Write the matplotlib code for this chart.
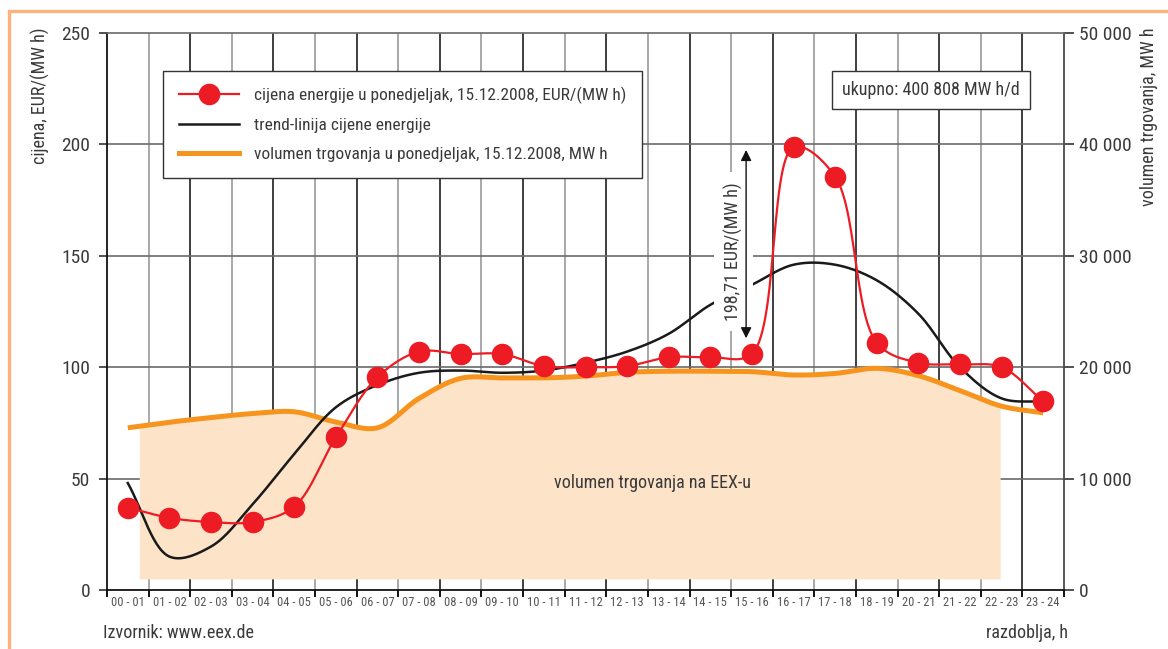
import numpy as np
import matplotlib
matplotlib.use("Agg")
import matplotlib.pyplot as plt
from matplotlib import font_manager
from matplotlib.patches import Rectangle
from matplotlib.lines import Line2D
from matplotlib.ticker import FuncFormatter

# hourly periods as printed in the source (19 - 20 is missing there)
periods = ["00 - 01", "01 - 02", "02 - 03", "03 - 04", "04 - 05", "05 - 06",
           "06 - 07", "07 - 08", "08 - 09", "09 - 10", "10 - 11", "11 - 12",
           "12 - 13", "13 - 14", "14 - 15", "15 - 16", "16 - 17", "17 - 18",
           "18 - 19", "20 - 21", "21 - 22", "22 - 23", "23 - 24"]

# price, EUR/(MW h)
price = [37, 32.4, 30.5, 30.5, 37.4, 68.5, 95.5, 107, 105.9, 105.9, 100.5, 100,
         100.5, 104.5, 104.5, 106, 198.71, 185.5, 111, 102, 101.3, 100, 84.7]

# trend line of price
trend = [48, 15, 19.5, 38.5, 61, 82, 92, 97.5, 98.5, 97.5, 98.5, 102,
         107, 115, 128, 137, 146, 146, 139, 124, 100, 86, 84.5]

# traded volume, MW h
volume = [14560, 15060, 15480, 15840, 16000, 15080, 14560, 17200, 19000, 19040,
          19040, 19200, 19540, 19640, 19640, 19600, 19300, 19440, 19900, 19240,
          17900, 16500, 15900]

# EEX volume band (period index span, floor in MW h)
eex_span = (0.27, 21.0)
eex_floor = 1000

peak_label = "198,71 EUR/(MW h)"
total_label = "ukupno: 400 808 MW h/d"

RED = "#ED1C24"
ORANGE = "#F7941D"
PEACH = "#FDE4C9"
TXT = "#3a3a3a"

# narrow font if there is one
names = {f.name for f in font_manager.fontManager.ttflist}
family = "Liberation Sans"
for cand in ["Liberation Sans Narrow", "Arial Narrow", "Roboto Condensed",
             "Open Sans Condensed", "Noto Sans Condensed"]:
    if cand in names:
        family = cand
        break
plt.rcParams["font.family"] = [family, "DejaVu Sans"]


def smooth(x, y, sx, sy, n=30, alpha=0.5):
    # centripetal Catmull-Rom through the points, computed in pixel space
    p = np.column_stack([np.asarray(x, float) * sx, np.asarray(y, float) * sy])
    p = np.vstack([2 * p[0] - p[1], p, 2 * p[-1] - p[-2]])
    out = []
    for i in range(1, len(p) - 2):
        p0, p1, p2, p3 = p[i - 1], p[i], p[i + 1], p[i + 2]
        t0 = 0.0
        t1 = t0 + np.linalg.norm(p1 - p0) ** alpha
        t2 = t1 + np.linalg.norm(p2 - p1) ** alpha
        t3 = t2 + np.linalg.norm(p3 - p2) ** alpha
        t = np.linspace(t1, t2, n)[:, None]
        a1 = (t1 - t) / (t1 - t0) * p0 + (t - t0) / (t1 - t0) * p1
        a2 = (t2 - t) / (t2 - t1) * p1 + (t - t1) / (t2 - t1) * p2
        a3 = (t3 - t) / (t3 - t2) * p2 + (t - t2) / (t3 - t2) * p3
        b1 = (t2 - t) / (t2 - t0) * a1 + (t - t0) / (t2 - t0) * a2
        b2 = (t3 - t) / (t3 - t1) * a2 + (t - t1) / (t3 - t1) * a3
        c = (t2 - t) / (t2 - t1) * b1 + (t - t1) / (t2 - t1) * b2
        out.append(c if i == 1 else c[1:])
    c = np.vstack(out)
    return c[:, 0] / sx, c[:, 1] / sy


W, H = 1168, 649
fig = plt.figure(figsize=(W / 100, H / 100), dpi=100)


def fx(px):
    return px / W


def fy(py):
    return 1 - py / H


ax = fig.add_axes([fx(107), fy(590), fx(1064) - fx(107), fy(33) - fy(590)])
ax2 = ax.twinx()
ax.set_zorder(2)
ax.patch.set_visible(False)
ax2.set_zorder(1)

n = len(periods)
x = np.arange(n)
ax.set_xlim(-0.5, n - 0.5)
ax.set_ylim(0, 250)
ax2.set_ylim(0, 50000)

# pixel scales for smoothing
sx = 956 / n
sy = 557 / 250
sy2 = 557 / 50000

# grid (on the back axes so the band covers it)
for k in range(1, n):
    ax2.axvline(k - 0.5, color="#1e1e1e" if k % 2 == 0 else "#9a9a9a", lw=1.2, zorder=0)
for v in range(10000, 50000, 10000):
    ax2.axhline(v, color="#6a6a6a", lw=1.2, zorder=0)

# volume band and line
xo, yo = smooth(x, volume, sx, sy2)
m = (xo >= eex_span[0]) & (xo <= eex_span[1])
ax2.fill_between(xo[m], eex_floor, yo[m], color=PEACH, lw=0, zorder=1)
ax2.plot(xo, yo, color=ORANGE, lw=3.6, zorder=2, solid_capstyle="butt")

# trend and price
xt, yt = smooth(x, trend, sx, sy)
ax.plot(xt, yt, color="#1a1a1a", lw=1.8, zorder=3)
xp, yp = smooth(x, price, sx, sy)
ax.plot(xp, yp, color=RED, lw=1.6, zorder=8)
ax.plot(x, price, "o", ms=14.5, color=RED, mec=RED, zorder=9)

# peak annotation
ax.text(14.55, 152, peak_label, rotation=90, ha="center", va="center",
        fontsize=13, color=TXT, zorder=6,
        bbox=dict(fc="white", ec="none", boxstyle="square,pad=0.55"))
ax.annotate("", xy=(14.86, 197.5), xytext=(14.86, 113),
            arrowprops=dict(arrowstyle="<|-|>", color="#111111", lw=1.0,
                            mutation_scale=16, shrinkA=0, shrinkB=0),
            zorder=7)

ax.text(12.6, 48, "volumen trgovanja na EEX-u", ha="center", va="center",
        fontsize=13, color=TXT, zorder=4)

# axes styling
ax.spines["right"].set_visible(False)
ax.spines["left"].set_color("#111111")
ax.spines["left"].set_linewidth(1.3)
ax.spines["bottom"].set_color("#111111")
ax.spines["bottom"].set_linewidth(1.3)
ax.spines["top"].set_color("#6a6a6a")
ax.spines["top"].set_linewidth(1.2)
for s in ["left", "top", "bottom"]:
    ax2.spines[s].set_visible(False)
ax2.spines["right"].set_color("#4a4a4a")
ax2.spines["right"].set_linewidth(1.3)

ax.set_yticks(range(0, 251, 50))
ax.tick_params(axis="y", length=6, width=1.2, color="#333333", pad=6,
               labelsize=14, labelcolor=TXT)
ax2.set_yticks(range(0, 50001, 10000))
ax2.yaxis.set_major_formatter(FuncFormatter(lambda v, _: f"{int(v):,}".replace(",", " ")))
ax2.tick_params(axis="y", length=7, width=1.2, color="#333333", pad=4,
                labelsize=14, labelcolor=TXT)

ax.set_xticks(np.arange(n + 1) - 0.5)
ax.set_xticklabels([])
ax.set_xticks(x, minor=True)
ax.set_xticklabels(periods, minor=True, fontsize=9, color="#555555")
ax.tick_params(axis="x", which="minor", length=0, pad=4)
ax.tick_params(axis="x", which="major", length=5, width=1.3, direction="out")
for k, t in enumerate(ax.xaxis.get_major_ticks()):
    t.tick1line.set_color("#1e1e1e" if k % 2 == 0 else "#8a8a8a")

# legend
handles = [
    Line2D([], [], color=RED, lw=1.6, marker="o", ms=14.5, mec=RED),
    Line2D([], [], color="#1a1a1a", lw=1.8),
    Line2D([], [], color=ORANGE, lw=3.6),
]
labels = ["cijena energije u ponedjeljak, 15.12.2008, EUR/(MW h)",
          "trend-linija cijene energije",
          "volumen trgovanja u ponedjeljak, 15.12.2008, MW h"]
leg = ax.legend(handles, labels, loc="upper left",
                bbox_to_anchor=(fx(163), fy(71)), bbox_transform=fig.transFigure,
                fontsize=12.5, frameon=True, fancybox=False, framealpha=1,
                edgecolor="#333333", handlelength=3.5, handletextpad=0.85,
                labelspacing=0.8, borderpad=0.9, borderaxespad=0)
leg.get_frame().set_linewidth(1.0)
leg.set_zorder(20)
for t in leg.get_texts():
    t.set_color(TXT)

# total box
fig.text(fx(931), fy(90), total_label, ha="center", va="center", fontsize=13,
         color=TXT, bbox=dict(fc="white", ec="#333333", lw=1.0,
                              boxstyle="square,pad=0.55"))

# axis titles and source
fig.text(fx(40), fy(28), "cijena, EUR/(MW h)", rotation=90, ha="center", va="top",
         fontsize=13, color=TXT)
fig.text(fx(1149), fy(28), "volumen trgovanja, MW h", rotation=90, ha="center",
         va="top", fontsize=13, color=TXT)
fig.text(fx(103), fy(633), "Izvornik: www.eex.de", ha="left", va="center",
         fontsize=13, color=TXT)
fig.text(fx(1068), fy(633), "razdoblja, h", ha="right", va="center",
         fontsize=13, color=TXT)

# frame of the page
fig.add_artist(Rectangle((fx(9), -0.2), 1.3, fy(11) + 0.2, transform=fig.transFigure,
                         fill=False, ec="#FDB27E", lw=2.4))

fig.savefig("out.png", dpi=100)
